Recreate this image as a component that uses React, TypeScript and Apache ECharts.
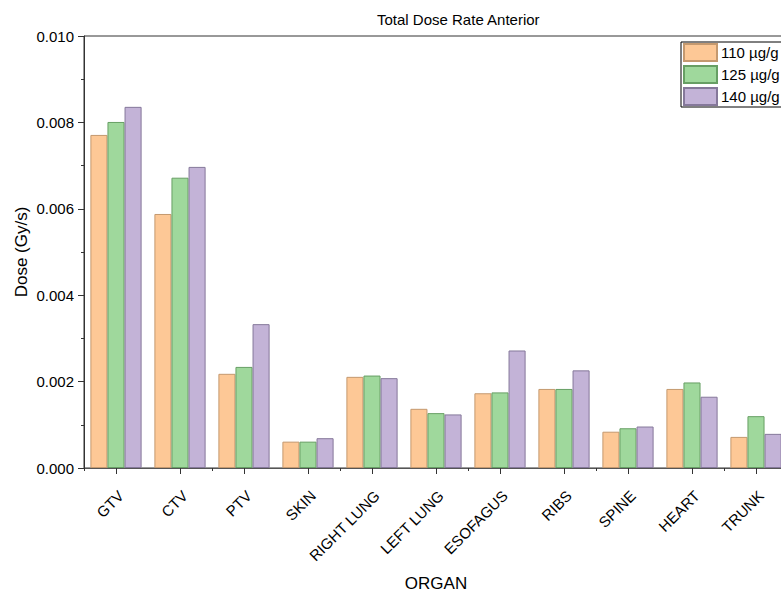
import React, { useEffect, useRef } from "react";
import * as echarts from "echarts";

const organs = [
  "GTV", "CTV", "PTV", "SKIN", "RIGHT LUNG", "LEFT LUNG",
  "ESOFAGUS", "RIBS", "SPINE", "HEART", "TRUNK",
];

const dose110 = [0.00771, 0.00588, 0.00218, 0.00061, 0.00211, 0.00137, 0.00173, 0.00183, 0.00084, 0.00183, 0.00072];
const dose125 = [0.00801, 0.00672, 0.00234, 0.00061, 0.00214, 0.00127, 0.00175, 0.00183, 0.00092, 0.00198, 0.00120];
const dose140 = [0.00836, 0.00697, 0.00333, 0.00069, 0.00208, 0.00124, 0.00272, 0.00226, 0.00096, 0.00165, 0.00079];

const seriesNames = ["110 µg/g", "125 µg/g", "140 µg/g"];
const fills = ["#FDC896", "#9FD89C", "#C3B3D7"];
const borders = ["#C4996F", "#679F64", "#85789A"];

const FONT = "Liberation Sans, Arial, sans-serif";

export default function App() {
  const ref = useRef<HTMLDivElement>(null);

  useEffect(() => {
    if (!ref.current) return;
    const chart = echarts.init(ref.current, undefined, { renderer: "svg" });
    const values = [dose110, dose125, dose140];

    chart.setOption({
      animation: false,
      backgroundColor: "#ffffff",
      title: {
        text: "Total Dose Rate Anterior",
        left: 377,
        top: 12,
        padding: 0,
        textStyle: { fontFamily: FONT, fontSize: 15, fontWeight: "normal", color: "#000" },
      },
      legend: {
        orient: "vertical",
        left: 681,
        top: 42,
        padding: [1, 40, 1, 2],
        itemGap: 3,
        itemWidth: 33,
        itemHeight: 17,
        borderColor: "#000",
        borderWidth: 1,
        backgroundColor: "#fff",
        textStyle: { fontFamily: FONT, fontSize: 15, color: "#000", padding: [0, 0, 0, -1] },
        data: seriesNames.map((n) => ({ name: n, icon: "rect" })),
      },
      grid: {
        left: 84,
        top: 36,
        width: 704,
        height: 432,
        show: true,
        borderColor: "#333",
        borderWidth: 1,
        containLabel: false,
        outerBoundsMode: "none",
      },
      xAxis: [
        {
          type: "category",
          data: organs,
          name: "ORGAN",
          nameLocation: "middle",
          nameGap: 107,
          nameMoveOverlap: false,
          nameTextStyle: { fontFamily: FONT, fontSize: 17, color: "#000" },
          axisLine: { show: true, lineStyle: { color: "#555", width: 1 } },
          axisTick: { show: true, alignWithLabel: true, length: 6, lineStyle: { color: "#333" } },
          axisLabel: {
            rotate: 45,
            fontFamily: FONT,
            fontSize: 15,
            color: "#000",
            margin: 30,
            padding: [0, -7, 0, 0],
          },
        },
        {
          type: "category",
          data: organs,
          position: "bottom",
          axisLine: { show: false },
          axisTick: { show: true, alignWithLabel: false, length: 3, lineStyle: { color: "#333" } },
          axisLabel: { show: false },
        },
      ],
      yAxis: {
        type: "value",
        min: 0,
        max: 0.01,
        interval: 0.002,
        name: "Dose (Gy/s)",
        nameLocation: "middle",
        nameGap: 54,
        nameMoveOverlap: false,
        nameTextStyle: { fontFamily: FONT, fontSize: 17, color: "#000" },
        axisLine: { show: true, lineStyle: { color: "#333", width: 1 } },
        axisTick: { show: true, length: 6, lineStyle: { color: "#333" } },
        minorTick: { show: true, splitNumber: 2, length: 3, lineStyle: { color: "#333" } },
        splitLine: { show: false },
        axisLabel: {
          fontFamily: FONT,
          fontSize: 15,
          color: "#000",
          margin: 10,
          formatter: (v: number) => v.toFixed(3),
        },
      },
      series: seriesNames.map((name, i) => ({
        name,
        type: "bar",
        xAxisIndex: 0,
        data: values[i],
        barGap: "0%",
        barCategoryGap: "20%",
        itemStyle: { color: fills[i], borderColor: borders[i], borderWidth: 1 },
      })),
    });

    return () => chart.dispose();
  }, []);

  return (
    <div style={{ position: "fixed", left: 0, top: 0, width: 781, height: 593, overflow: "hidden" }}>
      <div ref={ref} style={{ width: 820, height: 593 }} />
    </div>
  );
}
